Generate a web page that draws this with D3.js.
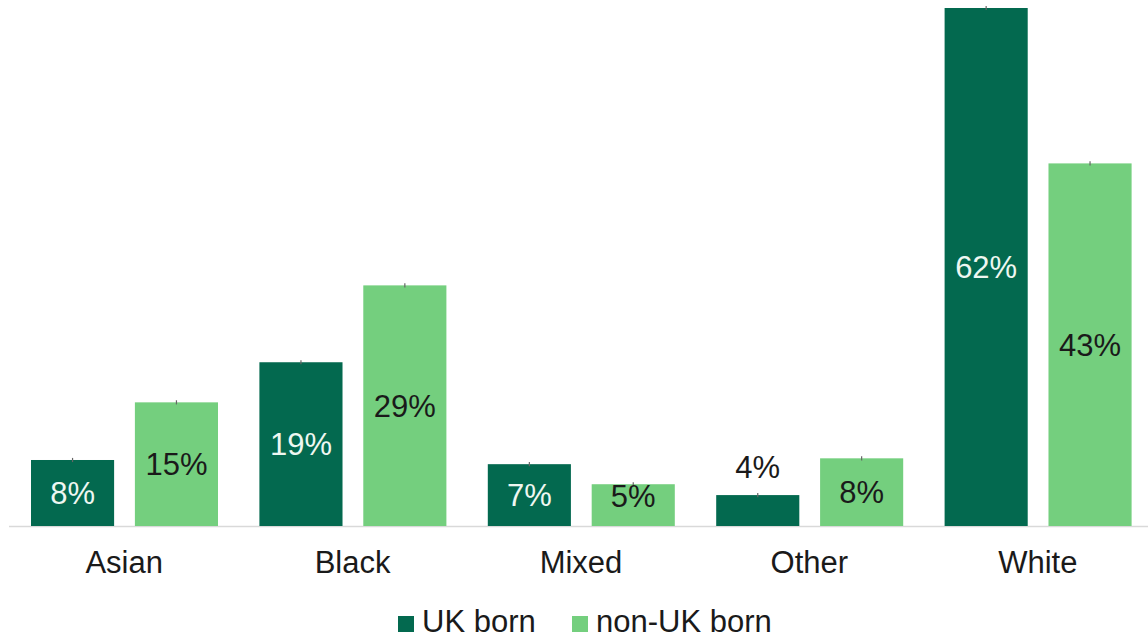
<!DOCTYPE html>
<html>
<head>
<meta charset="utf-8">
<script src="https://cdn.jsdelivr.net/npm/d3@7"></script>
<style>
  body { margin: 0; background: #fff; }
  text { font-family: "Liberation Sans", Arial, sans-serif; }
</style>
</head>
<body>
<div id="chart"></div>
<script>
// Data
var categories = ["Asian", "Black", "Mixed", "Other", "White"];
var seriesNames = ["UK born", "non-UK born"];
var ukBorn = [7.9, 19.6, 7.4, 3.7, 62.0];
var nonUkBorn = [14.8, 28.8, 5.0, 8.1, 43.4];
var valueLabels = [["8%", "19%", "7%", "4%", "62%"], ["15%", "29%", "5%", "8%", "43%"]];
var errorMargin = [0.25, 0.25, 0.25, 0.25, 0.25];

var colors = ["#03694f", "#74cf7e"];
var labelColors = ["#eef7f1", "#1a1a1a"];

var width = 1148, height = 640,
    baseY = 526, topY = 8;

var svg = d3.select("#chart").append("svg")
    .attr("width", width)
    .attr("height", height);

// Scales
var x0 = d3.scaleBand()
    .domain(categories)
    .range([10, 1152])
    .padding(0);

var x1 = d3.scaleBand()
    .domain(seriesNames)
    .range([21, 208])
    .paddingInner(0.2)
    .paddingOuter(0);

var y = d3.scaleLinear()
    .domain([0, 62])
    .range([baseY, topY]);

var rows = categories.map(function(c, i) {
    return { category: c, values: [ukBorn[i], nonUkBorn[i]], idx: i };
});

// Axis line
svg.append("line")
    .attr("x1", 9).attr("x2", width)
    .attr("y1", baseY + 0.5).attr("y2", baseY + 0.5)
    .style("stroke", "#d9d9d9")
    .style("stroke-width", 1.5);

// Bars
var groups = svg.selectAll("g.cat")
    .data(rows)
    .enter().append("g")
    .attr("class", "cat")
    .attr("transform", function(d) { return "translate(" + x0(d.category) + ",0)"; });

var bars = groups.selectAll("g.bar")
    .data(function(d) {
        return d.values.map(function(v, s) { return { value: v, s: s, idx: d.idx }; });
    })
    .enter().append("g")
    .attr("class", "bar");

bars.append("rect")
    .attr("x", function(d) { return x1(seriesNames[d.s]); })
    .attr("width", x1.bandwidth())
    .attr("y", function(d) { return y(d.value); })
    .attr("height", function(d) { return baseY - y(d.value); })
    .style("fill", function(d) { return colors[d.s]; });

// Tiny error bars
bars.append("line")
    .attr("x1", function(d) { return x1(seriesNames[d.s]) + x1.bandwidth() / 2; })
    .attr("x2", function(d) { return x1(seriesNames[d.s]) + x1.bandwidth() / 2; })
    .attr("y1", function(d) { return y(d.value + errorMargin[d.idx]); })
    .attr("y2", function(d) { return y(d.value - errorMargin[d.idx]); })
    .style("stroke", "#666")
    .style("stroke-width", 1.2);

// Value labels
bars.append("text")
    .attr("x", function(d) { return x1(seriesNames[d.s]) + x1.bandwidth() / 2; })
    .attr("y", function(d) {
        var top = y(d.value), h = baseY - top;
        if (h < 36) return top - 28;
        return Math.min((top + baseY) / 2, baseY - 30);
    })
    .attr("dy", "0.35em")
    .attr("text-anchor", "middle")
    .style("font-size", "31px")
    .style("fill", function(d) {
        var h = baseY - y(d.value);
        return h < 36 ? "#1a1a1a" : labelColors[d.s];
    })
    .text(function(d) { return valueLabels[d.s][d.idx]; });

// Category labels
groups.append("text")
    .attr("x", x0.bandwidth() / 2)
    .attr("y", 573)
    .attr("text-anchor", "middle")
    .style("font-size", "31px")
    .style("fill", "#1a1a1a")
    .text(function(d) { return d.category; });

// Legend
var legendX = [398, 572];
var legend = svg.selectAll("g.legend")
    .data(seriesNames)
    .enter().append("g")
    .attr("class", "legend")
    .attr("transform", function(d, i) { return "translate(" + legendX[i] + ",0)"; });

legend.append("rect")
    .attr("x", 0).attr("y", 616)
    .attr("width", 16).attr("height", 16)
    .style("fill", function(d, i) { return colors[i]; });

legend.append("text")
    .attr("x", 24)
    .attr("y", 632)
    .style("font-size", "31px")
    .style("fill", "#1a1a1a")
    .text(function(d) { return d; });
</script>
</body>
</html>
